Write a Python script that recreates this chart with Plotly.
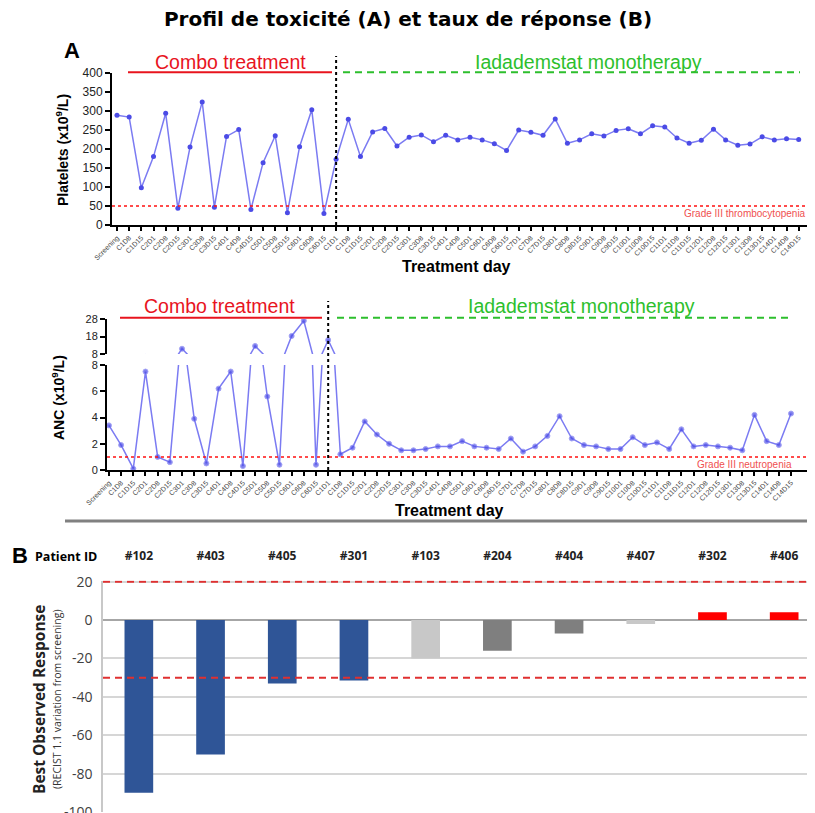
import plotly.graph_objects as go

# ---------------- data ----------------
combo_days = ["Screening", "C1D8", "C1D15", "C2D1", "C2D8", "C2D15", "C3D1", "C3D8", "C3D15",
              "C4D1", "C4D8", "C4D15", "C5D1", "C5D8", "C5D15", "C6D1", "C6D8", "C6D15"]
mono_days = ["C1D1", "C1D8", "C1D15", "C2D1", "C2D8", "C2D15", "C3D1", "C3D8", "C3D15",
             "C4D1", "C4D8", "C5D1", "C6D1", "C6D8", "C6D15", "C7D1", "C7D8", "C7D15",
             "C8D1", "C8D8", "C8D15", "C9D1", "C9D8", "C9D15", "C10D1", "C10D8", "C10D15",
             "C11D1", "C11D8", "C11D15", "C12D1", "C12D8", "C12D15", "C13D1", "C13D8", "C13D15",
             "C14D1", "C14D8", "C14D15"]
treatment_days = combo_days + mono_days

platelets_combo = [289, 284, 98, 180, 294, 44, 205, 324, 47, 233, 251, 41, 164, 235, 32, 206, 303, 30]
platelets_mono = [173, 278, 180, 245, 254, 208, 231, 237, 219, 236, 224, 231, 224, 214, 196, 250, 244,
                  236, 279, 215, 224, 240, 234, 249, 253, 240, 261, 258, 229, 215, 223, 252, 224,
                  210, 213, 232, 224, 227, 225]
platelets = platelets_combo + platelets_mono

anc_combo = [3.4, 1.9, 0.1, 7.5, 1.0, 0.6, 11, 3.9, 0.5, 6.2, 7.5, 0.3, 12.6, 5.6, 0.4, 18.3, 27, 0.4]
anc_mono = [16, 1.2, 1.7, 3.7, 2.7, 2.0, 1.5, 1.5, 1.6, 1.8, 1.8, 2.2, 1.8, 1.7, 1.6, 2.4, 1.4,
            1.8, 2.6, 4.1, 2.4, 1.9, 1.8, 1.6, 1.6, 2.5, 1.9, 2.1, 1.6, 3.1, 1.8, 1.9, 1.8,
            1.7, 1.5, 4.2, 2.2, 1.9, 4.3]
anc = anc_combo + anc_mono

platelet_ticks = [0, 50, 100, 150, 200, 250, 300, 350, 400]
anc_low_ticks = [0, 2, 4, 6, 8]
anc_high_ticks = [8, 18, 28]
anc_break = 8

patients = ["#102", "#403", "#405", "#301", "#103", "#204", "#404", "#407", "#302", "#406"]
best_response = [-90, -70, -33, -31.5, -20, -16, -7, -2, 4, 4]
response_ticks = [20, 0, -20, -40, -60, -80, -100]
response_tick_text = ["20", "0", "-20", "-40", "-60", "-80", "-100"]

grade3_platelets = 50
grade3_anc = 1
response_thresholds = [20, -30]
switch_day_index = len(combo_days)

# ---------------- styles ----------------
# page body has an 8px default margin: figure is placed at (8, 8)
OFF = 8
W, H = 815 - OFF, 813 - OFF
def px(x): return (x - OFF) / W
def py(y): return 1 - (y - OFF) / H

bar_colors = ["#2f5597", "#2f5597", "#2f5597", "#2f5597", "#c8c8c8",
              "#7f7f7f", "#7f7f7f", "#c8c8c8", "#ff0000", "#ff0000"]
LINE_C = "#7b7bf2"
MARK_C = "#4b4be6"
RED = "#e8141e"
GREEN = "#2dbf2d"
ARIAL = "Liberation Sans, Arial, sans-serif"
CAL = "Open Sans, sans-serif"

idx = list(range(len(treatment_days)))

fig = go.Figure()
line_kw = dict(mode="lines+markers", line=dict(color=LINE_C, width=1.5),
               showlegend=False, hoverinfo="skip")
fig.add_trace(go.Scatter(x=idx, y=platelets, xaxis="x", yaxis="y",
                         marker=dict(color=MARK_C, size=5), **line_kw))
fig.add_trace(go.Scatter(x=idx, y=anc, xaxis="x2", yaxis="y2",
                         marker=dict(color=MARK_C, size=[5 if v <= anc_break else 0 for v in anc]),
                         **line_kw))
fig.add_trace(go.Scatter(x=idx, y=anc, xaxis="x3", yaxis="y3",
                         marker=dict(color=MARK_C, size=[5 if v >= anc_break else 0 for v in anc]),
                         **line_kw))
fig.add_trace(go.Bar(x=patients, y=best_response, xaxis="x4", yaxis="y4",
                     marker=dict(color=bar_colors, line=dict(width=0)), width=0.4,
                     showlegend=False, hoverinfo="skip"))

xcommon = dict(tickmode="array", tickvals=idx, ticktext=treatment_days, tickangle=-45,
               tickfont=dict(family=ARIAL, size=7, color="#444"), ticks="outside",
               ticklen=4, tickwidth=1.5, tickcolor="black", showline=True, linecolor="black",
               linewidth=2, showgrid=False, zeroline=False, automargin=False)
ycommon = dict(ticks="outside", ticklen=5, tickwidth=1.5, tickcolor="black", showline=True,
               linecolor="black", linewidth=2, showgrid=False, zeroline=False, automargin=False,
               tickmode="array")
yfont12 = dict(family=ARIAL, size=12, color="#222")
yfont11 = dict(family=ARIAL, size=11, color="#222")

fig.update_layout(
    width=W, height=H, margin=dict(l=0, r=0, t=0, b=0, autoexpand=False),
    paper_bgcolor="white", plot_bgcolor="white",
    title=dict(text="<b>Profil de toxicité (A) et taux de réponse (B)</b>", x=px(408), xanchor="center",
               y=py(19), yanchor="middle",
               font=dict(family="DejaVu Sans, sans-serif", size=20, color="black")),
    xaxis=dict(domain=[px(112), 1], range=[-0.41, 57.34], anchor="y", **xcommon),
    yaxis=dict(domain=[py(225), py(73)], range=[0, 400], anchor="x", tickvals=platelet_ticks,
               tickfont=yfont12, **ycommon),
    xaxis2=dict(domain=[px(107), 1], range=[-0.16, 57.97], anchor="y2", **xcommon),
    yaxis2=dict(domain=[py(470), py(365)], range=[0, 8], anchor="x2", tickvals=anc_low_ticks,
                tickfont=yfont11, **ycommon),
    xaxis3=dict(domain=[px(107), 1], range=[-0.16, 57.97], anchor="y3", visible=False, automargin=False),
    yaxis3=dict(domain=[py(354), py(319)], range=[8, 28], anchor="x3", tickvals=anc_high_ticks,
                tickfont=yfont11, **ycommon),
    xaxis4=dict(domain=[px(103), 1], range=[-0.5, 9.43], anchor="y4", type="category", side="top",
                showline=False, showgrid=False, ticks="", ticklabelstandoff=17, automargin=False,
                tickfont=dict(family=CAL, size=12, color="#222", weight="bold")),
    yaxis4=dict(domain=[py(812), py(580.5)], range=[-100, 20.6], anchor="x4", tickmode="array",
                tickvals=response_ticks, ticktext=response_tick_text, showgrid=True,
                gridcolor="#d6d6d6", gridwidth=1.5, zeroline=True, zerolinecolor="#a6a6a6",
                zerolinewidth=1.5, showline=True, linecolor="#c8c8c8", linewidth=1.5,
                ticks="", ticklabelstandoff=6, automargin=False, ticklabeloverflow="allow",
                tickfont=dict(family=CAL, size=14, color="#404040")),
)

shapes = []
# grade III lines
shapes.append(dict(type="line", xref="x domain", x0=0, x1=1, yref="y", y0=grade3_platelets,
                   y1=grade3_platelets, line=dict(color="#ff1010", width=1.5, dash="3px,3px")))
shapes.append(dict(type="line", xref="x2 domain", x0=0, x1=1, yref="y2", y0=grade3_anc,
                   y1=grade3_anc, line=dict(color="#ff1010", width=1.5, dash="3px,3px")))
# switch day dotted lines
shapes.append(dict(type="line", xref="x", x0=switch_day_index, x1=switch_day_index, yref="paper",
                   y0=py(225), y1=py(56), line=dict(color="black", width=2, dash="dot")))
shapes.append(dict(type="line", xref="x2", x0=switch_day_index, x1=switch_day_index, yref="paper",
                   y0=py(470), y1=py(301), line=dict(color="black", width=2, dash="dot")))
# treatment phase lines
for (yl, xr0, xr1, xg0, xg1) in [(72.3, 128, 332, 343, 800), (317.7, 120, 322, 337, 793)]:
    shapes.append(dict(type="line", xref="paper", yref="paper", x0=px(xr0), x1=px(xr1),
                       y0=py(yl), y1=py(yl), line=dict(color=RED, width=2)))
    shapes.append(dict(type="line", xref="paper", yref="paper", x0=px(xg0), x1=px(xg1),
                       y0=py(yl), y1=py(yl), line=dict(color=GREEN, width=2, dash="7px,5px")))
# response thresholds
for t in response_thresholds:
    shapes.append(dict(type="line", xref="x4 domain", x0=0, x1=1, yref="y4", y0=t, y1=t,
                       line=dict(color="#e03030", width=2, dash="7px,5px")))
# separator
shapes.append(dict(type="line", xref="paper", yref="paper", x0=px(65), x1=1, y0=py(521), y1=py(521),
                   line=dict(color="#808080", width=3)))
fig.update_layout(shapes=shapes)

ann = []
def A(text, x, y, size, color="black", family=ARIAL, angle=0, xanchor="center"):
    ann.append(dict(text=text, x=px(x), y=py(y), xref="paper", yref="paper", showarrow=False,
                    xanchor=xanchor, yanchor="middle", textangle=angle,
                    font=dict(family=family, size=size, color=color)))

A("<b>A</b>", 72, 50, 22)
A("Combo treatment", 230, 62, 19.5, RED)
A("Iadademstat monotherapy", 588, 62, 19.5, GREEN)
A("Combo treatment", 220, 306, 19.5, RED)
A("Iadademstat monotherapy", 581, 306, 19.5, GREEN)
A("<b>Platelets (x10<sup>9</sup>/L)</b>", 62, 150, 14, angle=-90)
A("<b>ANC (x10<sup>9</sup>/L)</b>", 58, 398, 14, angle=-90)
A("<b>Treatment day</b>", 456, 266, 16)
A("<b>Treatment day</b>", 449, 510, 16)
A("Grade III thrombocytopenia", 808, 214, 10, "#f05050", xanchor="right")
A("Grade III neutropenia", 794, 464, 10, "#f05050", xanchor="right")
A("<b>B</b>", 20, 555, 22)
A("<b>Patient ID</b>", 66, 556, 12.5, family=CAL)
A("<b>Best Observed Response</b>", 39, 700, 15.5, "#222", family=CAL, angle=-90)
A("(RECIST 1.1 variation from screening)", 57, 700, 10.5, "#333", family=CAL, angle=-90)
fig.update_layout(annotations=ann)

fig.write_html("out.html")
